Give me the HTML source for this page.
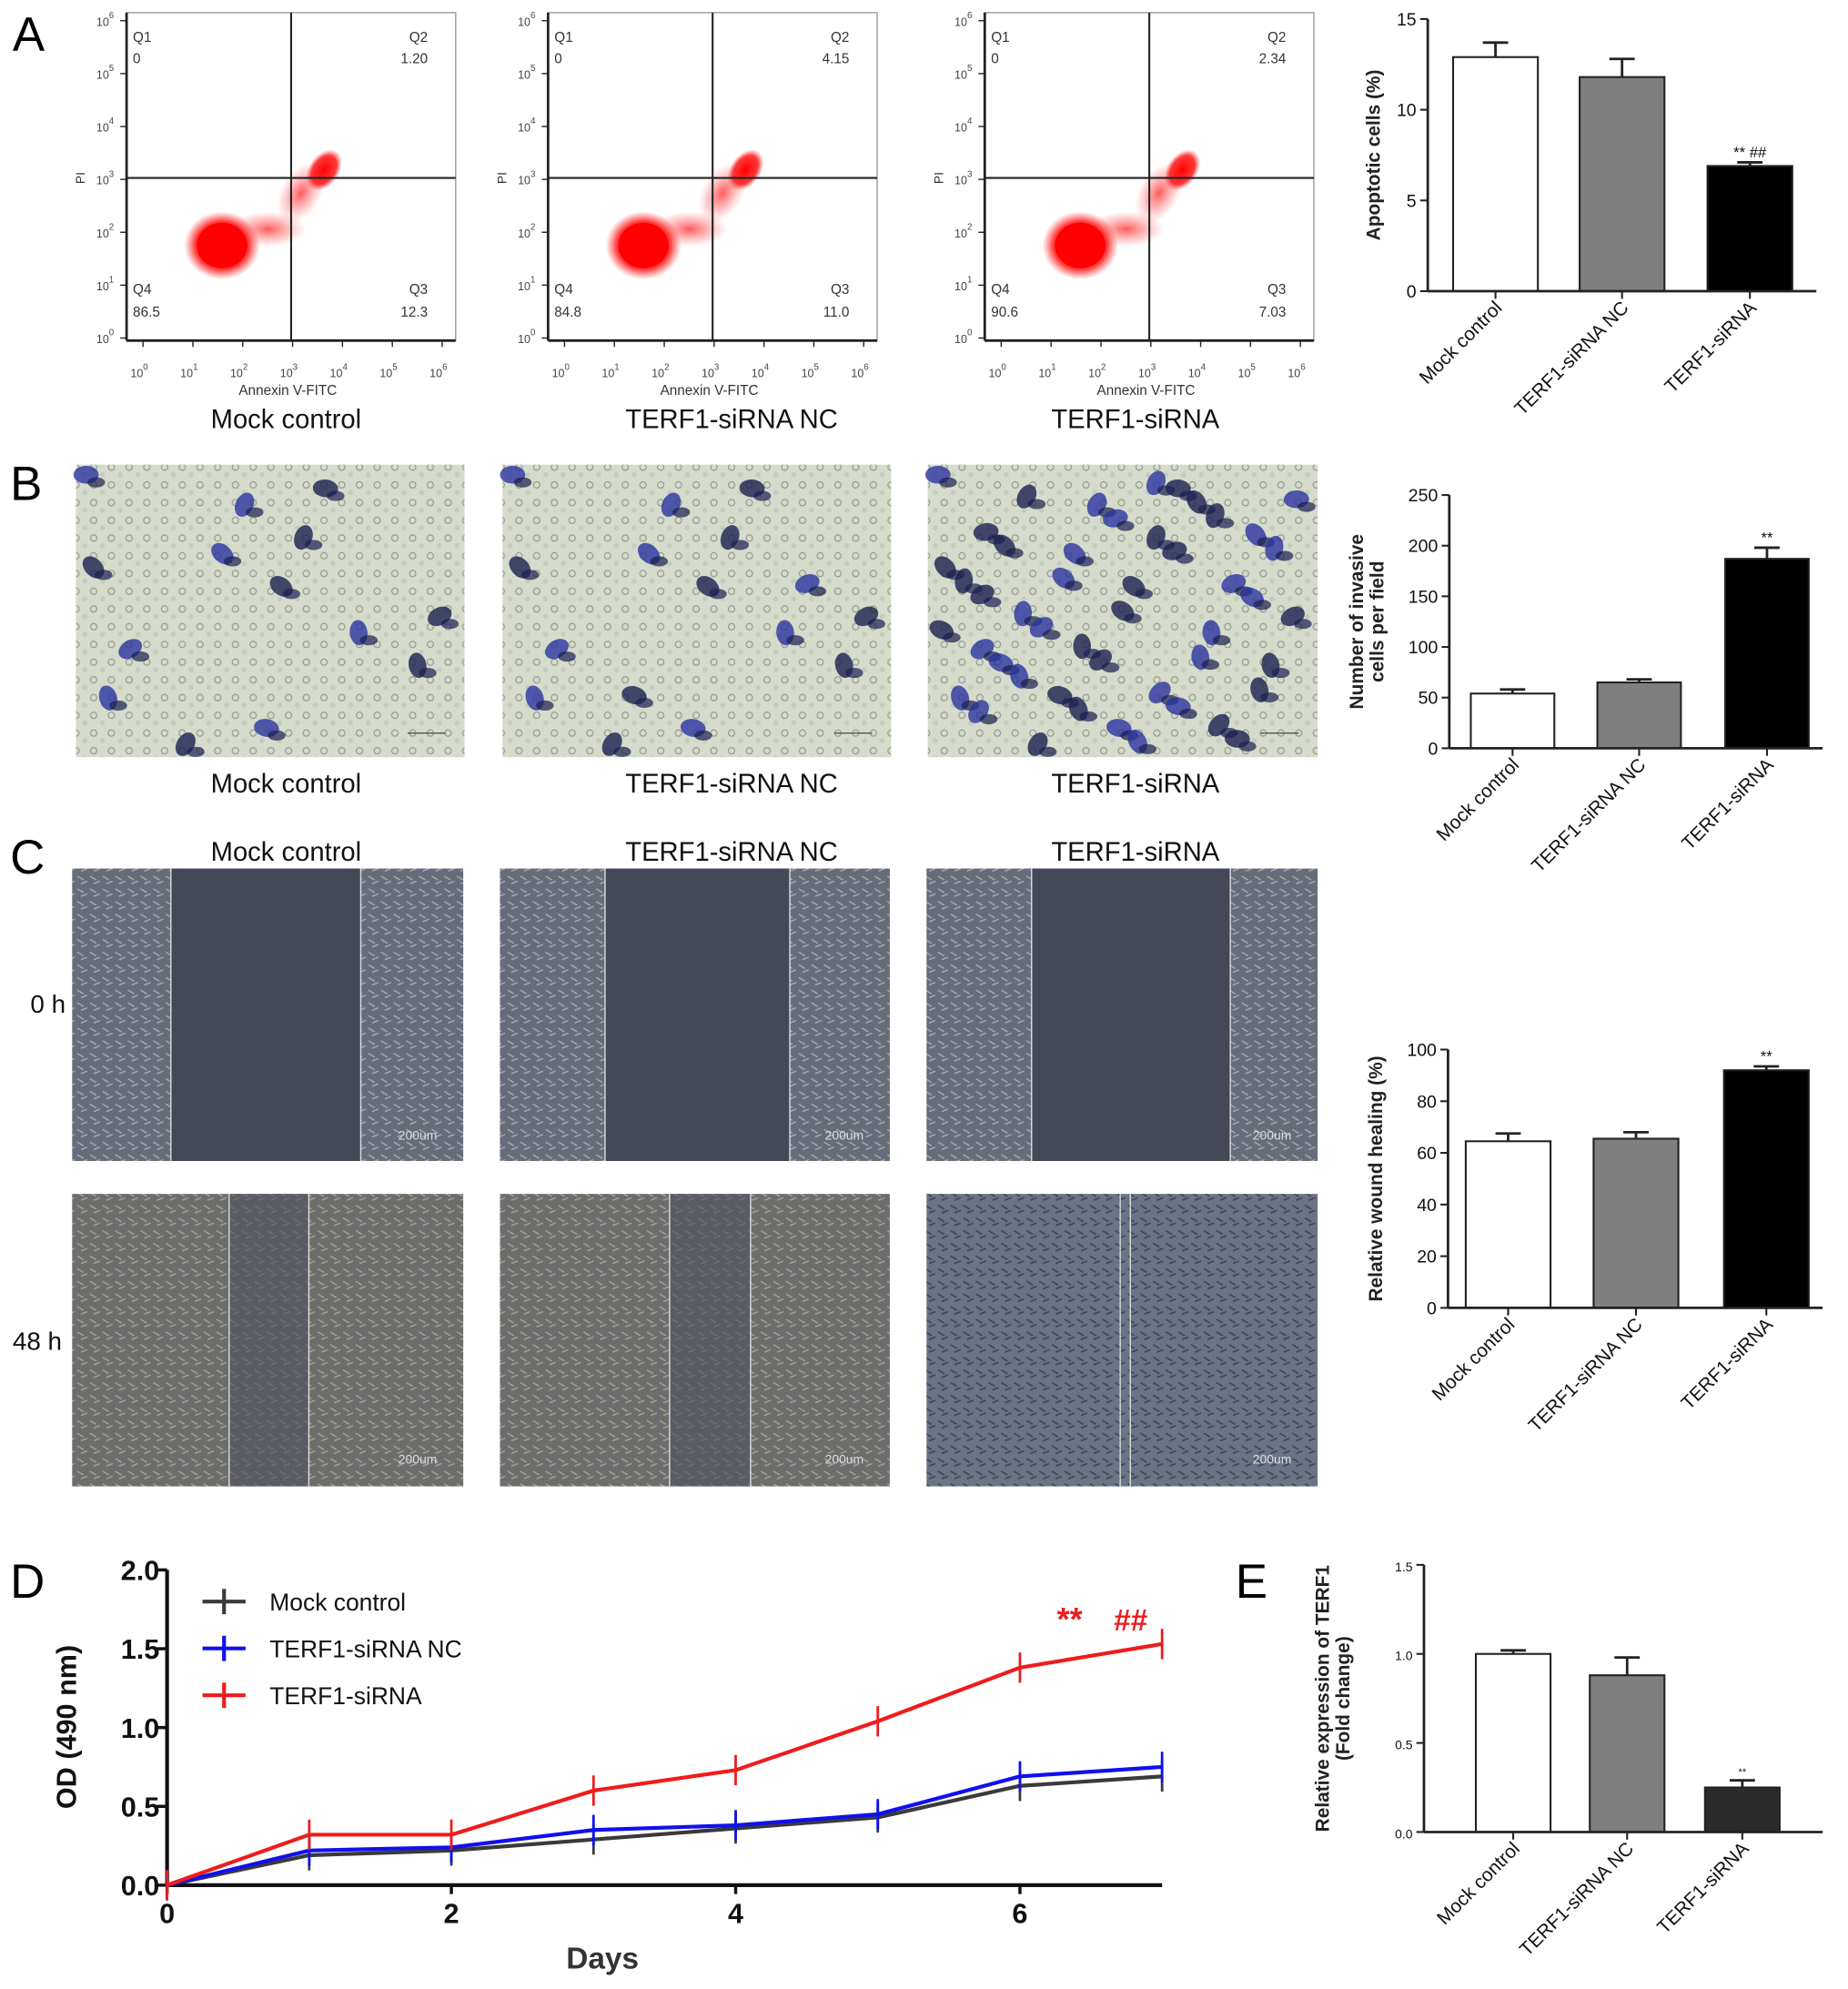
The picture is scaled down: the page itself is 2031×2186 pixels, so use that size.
<!DOCTYPE html>
<html><head><meta charset="utf-8"><style>
body{margin:0;background:#fff}
svg{display:block;font-family:"Liberation Sans",Arial,sans-serif}
</style></head><body>
<svg id="fig" width="2031" height="2186" viewBox="0 0 1460 1571" preserveAspectRatio="none" xmlns="http://www.w3.org/2000/svg">
<defs>
<radialGradient id="blob"><stop offset="0" stop-color="#f00" stop-opacity="1"/><stop offset="0.7" stop-color="#f22" stop-opacity="0.9"/><stop offset="1" stop-color="#f44" stop-opacity="0"/></radialGradient>
<radialGradient id="tail"><stop offset="0" stop-color="#f33" stop-opacity="0.8"/><stop offset="1" stop-color="#f66" stop-opacity="0"/></radialGradient>
<pattern id="cellsLight" width="14" height="14" patternUnits="userSpaceOnUse"><rect width="14" height="14" fill="#d6dbcb"/><circle cx="4" cy="5" r="2.5" fill="none" stroke="#8e9a8c" stroke-width="0.8"/><circle cx="11" cy="11" r="2" fill="#c3cdbd"/></pattern>
<pattern id="cellsDark" width="10" height="10" patternUnits="userSpaceOnUse"><rect width="10" height="10" fill="#676c79"/><path d="M1 2 L6 5 M4 8 L9 6" stroke="#a6abb2" stroke-width="1"/></pattern>
<pattern id="cellsMid" width="10" height="10" patternUnits="userSpaceOnUse"><rect width="10" height="10" fill="#6c6d6c"/><path d="M1 2 L6 5 M4 8 L9 6" stroke="#a8a391" stroke-width="1"/></pattern>
<pattern id="cellsBlue" width="10" height="10" patternUnits="userSpaceOnUse"><rect width="10" height="10" fill="#6a7487"/><path d="M1 2 L6 5 M4 8 L9 6" stroke="#3f4655" stroke-width="1.2"/></pattern>
</defs>
<g id="root"></g>
</svg>
<script>
const NS="http://www.w3.org/2000/svg";
const root=document.getElementById('root');
function el(tag,attrs,parent,text){const e=document.createElementNS(NS,tag);for(const k in attrs)e.setAttribute(k,attrs[k]);if(text!==undefined)e.textContent=text;(parent||root).appendChild(e);return e;}

// ---------- data ----------
const groups=["Mock control","TERF1-siRNA NC","TERF1-siRNA"];
const flowQ1=["0","0","0"];
const flowQ2=["1.20","4.15","2.34"];
const flowQ3=["12.3","11.0","7.03"];
const flowQ4=["86.5","84.8","90.6"];
const apoptosisValues=[12.9,11.8,6.9];
const apoptosisErr=[0.8,1.0,0.2];
const apoptosisTicks=[0,5,10,15];
const invasionValues=[54,65,187];
const invasionErr=[4,3,11];
const invasionTicks=[0,50,100,150,200,250];
const woundValues=[64.5,65.5,92];
const woundErr=[3,2.5,1.5];
const woundTicks=[0,20,40,60,80,100];
const terfValues=[1.0,0.88,0.25];
const terfErr=[0.02,0.1,0.04];
const terfTicks=[0,0.5,1.0,1.5];
const days=[0,1,2,3,4,5,6,7];
const odMock=[0,0.19,0.22,0.29,0.36,0.43,0.63,0.69];
const odNC=[0,0.22,0.24,0.35,0.38,0.45,0.69,0.75];
const odSi=[0,0.32,0.32,0.60,0.73,1.04,1.38,1.53];
const odTicks=[0,0.5,1.0,1.5,2.0];
const dayTicks=[0,2,4,6];

// ---------- panel letters ----------
[["A",10,40],["B",8,395],["C",8,690],["D",8,1262],["E",976,1262]].forEach(p=>{
  const t=el('text',{x:p[1],y:p[2],'font-size':38,fill:'#000'},root,p[0]);
  
  
});

// ---------- flow plots ----------
const flowLeft=[100,433,778];
const sup=['0','1','2','3','4','5','6'];
flowLeft.forEach((L,i)=>{
  const g=el('g',{});
  
  
  const W=260,T=10,H=259;
  el('rect',{x:L,y:T,width:W,height:H,fill:'#fff',stroke:'#999','stroke-width':1},g);
  el('line',{x1:L,y1:T,x2:L,y2:T+H,stroke:'#222','stroke-width':2},g);
  el('line',{x1:L,y1:T+H,x2:L+W,y2:T+H,stroke:'#222','stroke-width':2},g);
  const cx=L+W*0.29, cy=T+H*0.71;
  el('ellipse',{cx:L+W*0.43,cy:T+H*0.66,rx:30,ry:14,fill:'url(#tail)'},g);
  el('ellipse',{cx:L+W*0.53,cy:T+H*0.55,rx:16,ry:26,fill:'url(#tail)',transform:`rotate(30 ${L+W*0.53} ${T+H*0.55})`},g);
  el('ellipse',{cx:L+W*0.60,cy:T+H*0.48,rx:12,ry:18,fill:'url(#blob)',transform:`rotate(35 ${L+W*0.60} ${T+H*0.48})`},g);
  el('ellipse',{cx:cx,cy:cy,rx:30,ry:27,fill:'url(#blob)'},g);
  el('ellipse',{cx:cx,cy:cy,rx:20,ry:18,fill:'#f00'},g);
  const qx=L+W*0.5, qy=T+H*0.504;
  el('line',{x1:qx,y1:T,x2:qx,y2:T+H,stroke:'#222','stroke-width':1.5},g);
  el('line',{x1:L,y1:qy,x2:L+W,y2:qy,stroke:'#222','stroke-width':1.5},g);
  const fs=11;
  el('text',{x:L+5,y:T+23,'font-size':fs,fill:'#333'},g,'Q1');
  el('text',{x:L+5,y:T+40,'font-size':fs,fill:'#333'},g,flowQ1[i]);
  el('text',{x:L+W-22,y:T+23,'font-size':fs,fill:'#333','text-anchor':'end'},g,'Q2');
  el('text',{x:L+W-22,y:T+40,'font-size':fs,fill:'#333','text-anchor':'end'},g,flowQ2[i]);
  el('text',{x:L+5,y:T+H-37,'font-size':fs,fill:'#333'},g,'Q4');
  el('text',{x:L+5,y:T+H-19,'font-size':fs,fill:'#333'},g,flowQ4[i]);
  el('text',{x:L+W-22,y:T+H-37,'font-size':fs,fill:'#333','text-anchor':'end'},g,'Q3');
  el('text',{x:L+W-22,y:T+H-19,'font-size':fs,fill:'#333','text-anchor':'end'},g,flowQ3[i]);
  for(let k=0;k<=6;k++){
    const y=T+H-k*H/6.2-2;
    el('line',{x1:L-5,y1:y,x2:L,y2:y,stroke:'#222'},g);
    const t=el('text',{x:L-10,y:y+4,'font-size':9,fill:'#444','text-anchor':'end'},g,'10');
    el('tspan',{dy:-6,'font-size':7},t,sup[k]);
    const x=L+13+k*W/6.6;
    el('line',{x1:x,y1:T+H,x2:x,y2:T+H+5,stroke:'#222'},g);
    const t2=el('text',{x:x-3,y:T+H+29,'font-size':9,fill:'#444','text-anchor':'middle'},g,'10');
    el('tspan',{dy:-6,'font-size':7},t2,sup[k]);
  }
  el('text',{x:L-33,y:qy,'font-size':10,fill:'#333',transform:`rotate(-90 ${L-33} ${qy})`,'text-anchor':'middle'},g,'PI');
  el('text',{x:L+W*0.49,y:T+H+43,'font-size':11,fill:'#333','text-anchor':'middle'},g,'Annexin V-FITC');
});

const capX=[226,578,897];
[[338],[626],[680]].forEach((r,ri)=>{
  groups.forEach((gname,i)=>{
    const t=el('text',{x:capX[i],y:r[0],'font-size':21,fill:'#111','text-anchor':'middle'},root,gname);
    
    
  });
});

// ---------- B images ----------
const imgB=[[60,367,307],[397,367,307],[733,367,308]];
const blobPos=[];
for(let a=0;a<8;a++)for(let b=0;b<6;b++){blobPos.push([((a*37+b*53)%100)/100,((b*41+a*29)%100)/100]);}
imgB.forEach((b,i)=>{
  const g=el('g',{});
  
  
  el('rect',{x:b[0],y:b[1],width:b[2],height:231,fill:'url(#cellsLight)'},g);
  const dens=[14,16,48][i];
  for(let k=0;k<dens;k++){
    const bx=b[0]+8+blobPos[k][0]*(b[2]-16), by=b[1]+8+blobPos[k][1]*215;
    el('ellipse',{cx:bx,cy:by,rx:10,ry:7,fill:k%2?'#1b2050':'#2a35a0',opacity:0.8,transform:`rotate(${k*37%180} ${bx} ${by})`},g);
    el('ellipse',{cx:bx+8,cy:by+6,rx:7,ry:4,fill:'#1b2050',opacity:0.7},g);
  }
  el('line',{x1:b[0]+b[2]-45,y1:b[1]+212,x2:b[0]+b[2]-15,y2:b[1]+212,stroke:'#555'},g);
});

// ---------- C images ----------
const imgC=[[57,309,[135,285],[181,244]],[395,308,[478,624],[529,593]],[732,309,[815,972],[885,893]]];
imgC.forEach((c,i)=>{
  const g=el('g',{});
  
  
  el('rect',{x:c[0],y:686,width:c[1],height:231,fill:'url(#cellsDark)'},g);
  el('rect',{x:c[2][0],y:686,width:c[2][1]-c[2][0],height:231,fill:'#454857'},g);
  el('line',{x1:c[2][0],y1:686,x2:c[2][0],y2:917,stroke:'#ddd'},g);
  el('line',{x1:c[2][1],y1:686,x2:c[2][1],y2:917,stroke:'#ddd'},g);
  el('rect',{x:c[0],y:943,width:c[1],height:231,fill:i==2?'url(#cellsBlue)':'url(#cellsMid)'},g);
  if(i<2) el('rect',{x:c[3][0],y:943,width:c[3][1]-c[3][0],height:231,fill:'#4e5260',opacity:0.6},g);
  el('line',{x1:c[3][0],y1:943,x2:c[3][0],y2:1174,stroke:'#ddd'},g);
  el('line',{x1:c[3][1],y1:943,x2:c[3][1],y2:1174,stroke:'#ddd'},g);
  el('text',{x:c[0]+c[1]-36,y:900,'font-size':10,fill:'#ddd','text-anchor':'middle'},g,'200um');
  el('text',{x:c[0]+c[1]-36,y:1156,'font-size':10,fill:'#ddd','text-anchor':'middle'},g,'200um');
});
el('text',{x:24,y:800,'font-size':20,fill:'#111'},root,'0 h');
el('text',{x:10,y:1066,'font-size':20,fill:'#111'},root,'48 h');

// ---------- bar charts ----------
function barChart(name,values,errs,ticks,ax,ay0,ay1,barX,barW,xEnd,yTitle,yTitleX,star,labelFs,tickFs,decimals){
  const g=el('g',{});
  
  
  const max=ticks[ticks.length-1];
  const Y=v=>ay0-(v/max)*(ay0-ay1);
  const fills=['#fff','#7f7f7f','#000'];
  if(name==='terf-bar-chart') fills[2]='#2b2b2b';
  values.forEach((v,i)=>{
    const x=barX[i];
    el('line',{x1:x+barW/2,y1:Y(v),x2:x+barW/2,y2:Y(v+errs[i]),stroke:'#222','stroke-width':2},g);
    el('line',{x1:x+barW/2-10,y1:Y(v+errs[i]),x2:x+barW/2+10,y2:Y(v+errs[i]),stroke:'#222','stroke-width':2},g);
    const r=el('rect',{x:x,y:Y(v),width:barW,height:ay0-Y(v),fill:fills[i],stroke:'#222','stroke-width':1.5},g);
    
    
    const lx=x+barW/2, ly=ay0+14;
    el('text',{x:lx+6,y:ly,'font-size':labelFs,fill:'#111','text-anchor':'end',transform:`rotate(-45 ${lx+6} ${ly})`},g,groups[i]);
    el('line',{x1:lx,y1:ay0,x2:lx,y2:ay0+6,stroke:'#222','stroke-width':1.5},g);
  });
  if(star){
    const i=2;
    el('text',{x:barX[i]+barW/2,y:Y(values[i]+errs[i])-4,'font-size':tickFs-2,fill:'#111','text-anchor':'middle'},g,star);
  }
  el('line',{x1:ax,y1:ay1,x2:ax,y2:ay0,stroke:'#222','stroke-width':2},g);
  el('line',{x1:ax,y1:ay0,x2:xEnd,y2:ay0,stroke:'#222','stroke-width':2},g);
  ticks.forEach(t=>{
    el('line',{x1:ax-6,y1:Y(t),x2:ax,y2:Y(t),stroke:'#222','stroke-width':1.5},g);
    el('text',{x:ax-9,y:Y(t)+5,'font-size':tickFs,fill:'#111','text-anchor':'end'},g,decimals?t.toFixed(1):String(t));
  });
  const my=(ay0+ay1)/2;
  yTitle.forEach((line,k)=>{
    const xx=yTitleX+k*16;
    el('text',{x:xx,y:my,'font-size':15,'font-weight':'bold',fill:'#222','text-anchor':'middle',transform:`rotate(-90 ${xx} ${my})`},g,line);
  });
}
barChart('apoptosis-bar-chart',apoptosisValues,apoptosisErr,apoptosisTicks,1128,230,15,[1148,1248,1349],67,1435,['Apoptotic cells (%)'],1090,'** ##',15,14,false);
barChart('invasion-bar-chart',invasionValues,invasionErr,invasionTicks,1145,591,391,[1162,1262,1363],66,1440,['Number of invasive','cells per field'],1077,'**',15,14,false);
barChart('wound-bar-chart',woundValues,woundErr,woundTicks,1144,1033,829,[1158,1259,1362],67,1440,['Relative wound healing (%)'],1092,'**',15,14,false);
barChart('terf-bar-chart',terfValues,terfErr,terfTicks,1125,1447,1236,[1166,1256,1347],59,1440,['Relative expression of TERF1','(Fold change)'],1050,'**',15,10,true);

// ---------- line chart D ----------
(function(){
  const g=el('g',{});
  
  
  const ax=132, ay0=1489, ay1=1240, dx=112.3;
  const X=d=>ax+d*dx, Y=v=>ay0-(v/2)*(ay0-ay1);
  el('line',{x1:ax,y1:ay1,x2:ax,y2:ay0,stroke:'#111','stroke-width':3},g);
  el('line',{x1:ax,y1:ay0,x2:X(7),y2:ay0,stroke:'#111','stroke-width':3},g);
  odTicks.forEach(t=>{
    el('line',{x1:ax-8,y1:Y(t),x2:ax,y2:Y(t),stroke:'#111','stroke-width':2.5},g);
    el('text',{x:ax-6,y:Y(t)+8,'font-size':22,'font-weight':'bold',fill:'#111','text-anchor':'end'},g,t.toFixed(1));
  });
  dayTicks.forEach(t=>{
    el('line',{x1:X(t),y1:ay0,x2:X(t),y2:ay0+7,stroke:'#111','stroke-width':2.5},g);
    el('text',{x:X(t),y:ay0+30,'font-size':22,'font-weight':'bold',fill:'#111','text-anchor':'middle'},g,String(t));
  });
  el('text',{x:476,y:1555,'font-size':24,'font-weight':'bold',fill:'#333','text-anchor':'middle'},g,'Days');
  el('text',{x:60,y:1364,'font-size':22,'font-weight':'bold',fill:'#111','text-anchor':'middle',transform:'rotate(-90 60 1364)'},g,'OD (490 nm)');
  const series=[[odMock,'#3a3a3a','Mock control'],[odNC,'#1010ee','TERF1-siRNA NC'],[odSi,'#ee1c1c','TERF1-siRNA']];
  series.forEach((s,si)=>{
    const pts=days.map((d,i)=>X(d)+','+Y(s[0][i])).join(' ');
    const pl=el('polyline',{points:pts,fill:'none',stroke:s[1],'stroke-width':3},g);
    
    
    days.forEach((d,i)=>{
      el('line',{x1:X(d),y1:Y(s[0][i])-12,x2:X(d),y2:Y(s[0][i])+12,stroke:s[1],'stroke-width':2},g);
    });
    const ly=1265+si*37;
    el('line',{x1:160,y1:ly,x2:194,y2:ly,stroke:s[1],'stroke-width':3},g);
    el('line',{x1:177,y1:ly-10,x2:177,y2:ly+10,stroke:s[1],'stroke-width':3},g);
    const lt=el('text',{x:213,y:ly+7,'font-size':19,fill:'#111'},g,s[2]);
    
    
  });
  el('text',{x:835,y:1288,'font-size':26,'font-weight':'bold',fill:'#ee1c1c'},g,'**');
  el('text',{x:880,y:1288,'font-size':24,'font-weight':'bold',fill:'#ee1c1c'},g,'##');
})();
</script>
</body></html>
